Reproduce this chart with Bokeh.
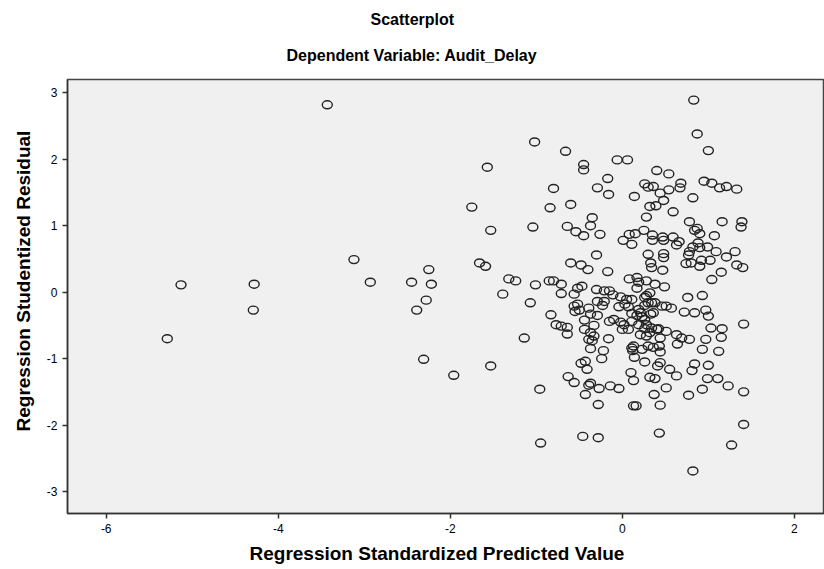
from bokeh.plotting import figure
from bokeh.models import Title, FixedTicker, Range1d
from bokeh.embed import file_html
from bokeh.resources import INLINE

title_main = "Scatterplot"
title_sub = "Dependent Variable: Audit_Delay"
x_label = "Regression Standardized Predicted Value"
y_label = "Regression Studentized Residual"
x_ticks = [-6, -4, -2, 0, 2]
x_tick_labels = ["-6", "-4", "-2", "0", "2"]
y_ticks = [-3, -2, -1, 0, 1, 2, 3]
y_tick_labels = ["-3", "-2", "-1", "0", "1", "2", "3"]

# Left / sparse region
x_left = [-5.29, -5.13, -4.28, -4.29, -3.43, -3.12, -2.93, -2.45, -2.25, -2.22,
          -2.28, -2.39, -2.31, -1.96, -1.53, -1.57, -1.75, -1.53, -1.66, -1.59,
          -1.39, -1.32, -1.24, -1.14, -1.07, -1.01, -1.04, -1.02, -0.96, -0.95]
y_left = [-0.70, 0.11, 0.12, -0.27, 2.82, 0.49, 0.15, 0.15, 0.34, 0.12,
          -0.12, -0.27, -1.01, -1.25, -1.11, 1.88, 1.28, 0.93, 0.44, 0.39,
          -0.03, 0.20, 0.17, -0.69, -0.16, 0.11, 0.98, 2.26, -1.46, -2.27]

# Middle-left region
x_midl = [-0.85, -0.80, -0.71, -0.71, -0.84, -0.80, -0.66, -0.60, -0.64, -0.54,
          -0.45, -0.45, -0.45, -0.35, -0.37, -0.29, -0.26, -0.60, -0.48, -0.40,
          -0.30, -0.56, -0.52, -0.47, -0.52, -0.56, -0.50, -0.55, -0.39, -0.37,
          -0.44, -0.29, -0.83, -0.77, -0.71, -0.64, -0.64, -0.44, -0.33, -0.37,
          -0.39, -0.33, -0.35, -0.37, -0.22, -0.24, -0.48, -0.43, -0.41, -0.63,
          -0.56, -0.43, -0.39, -0.37, -0.27, -0.14, -0.04, -0.28, -0.46, -0.28]
y_midl = [0.17, 0.17, 0.12, -0.02, 1.27, 1.56, 2.12, 1.32, 0.99, 0.91,
          0.85, 1.92, 1.84, 1.12, 1.00, 1.57, 0.87, 0.44, 0.41, 0.34,
          0.56, -0.03, 0.06, 0.09, -0.18, -0.21, -0.27, -0.29, -0.24, -0.33,
          -0.42, -0.35, -0.34, -0.49, -0.51, -0.53, -0.63, -0.56, -0.50, -0.61,
          -0.71, -0.66, -0.73, -0.85, -0.88, -1.00, -1.07, -1.04, -1.16, -1.27,
          -1.36, -1.54, -1.40, -1.37, -1.45, -1.41, -1.45, -1.69, -2.17, -2.19]

# Centre region
x_cent = [-0.17, -0.16, -0.06, 0.06, 0.14, 0.26, 0.30, 0.36, 0.28, 0.32,
          0.39, 0.40, 0.44, 0.01, 0.08, 0.15, 0.11, 0.25, 0.35, 0.35,
          -0.17, 0.30, 0.33, 0.34, 0.08, 0.17, 0.19, 0.28, 0.38, -0.30,
          -0.21, -0.15, -0.11, -0.02, 0.05, 0.11, 0.03, -0.04, 0.07, 0.19,
          0.11, 0.17, 0.23, -0.21, -0.29, -0.23, 0.17, 0.28, 0.32, 0.30,
          0.34, 0.26, 0.36, 0.21, 0.33, -0.15, -0.10, -0.02, 0.02, 0.11,
          0.19, 0.26, 0.07, 0.00, 0.21, 0.28, 0.32, 0.42, 0.51, 0.44,
          0.63, 0.69, 0.78, -0.16, 0.13, 0.23, 0.30, 0.36, 0.43, 0.44,
          0.11, 0.12, 0.14, 0.26, 0.41, 0.44, 0.55, 0.63, 0.10, 0.13,
          0.32, 0.38, 0.51, 0.37, 0.13, 0.16, 0.44, 0.43]
y_cent = [1.71, 1.47, 1.99, 1.99, 1.44, 1.63, 1.58, 1.59, 1.13, 1.29,
          1.30, 1.83, 1.49, 0.78, 0.87, 0.88, 0.72, 0.93, 0.86, 0.78,
          0.31, 0.57, 0.44, 0.37, 0.20, 0.22, 0.15, 0.17, 0.12, 0.04,
          0.02, 0.02, -0.04, -0.07, -0.11, -0.11, -0.18, -0.22, -0.22, -0.26,
          -0.32, -0.35, -0.37, -0.14, -0.14, -0.20, 0.06, -0.05, -0.01, -0.16,
          -0.16, -0.20, -0.31, -0.31, -0.33, -0.44, -0.41, -0.45, -0.49, -0.44,
          -0.49, -0.55, -0.56, -0.56, -0.64, -0.66, -0.61, -0.55, -0.59, -0.69,
          -0.64, -0.69, -0.71, -0.70, -0.81, -0.86, -0.81, -0.83, -0.81, -0.90,
          -0.84, -0.88, -0.98, -1.05, -1.11, -1.06, -1.16, -1.26, -1.21, -1.33,
          -1.28, -1.30, -1.44, -1.54, -1.71, -1.71, -1.70, -2.12]

# Right region
x_right = [0.83, 0.87, 1.00, 0.54, 0.54, 0.68, 0.67, 0.95, 1.04, 1.13,
           1.21, 1.33, 0.82, 0.48, 0.59, 0.78, 1.16, 1.39, 1.38, 0.87,
           0.84, 0.90, 1.07, 0.47, 0.48, 0.59, 0.66, 0.63, 0.88, 0.82,
           0.78, 0.90, 0.99, 1.09, 0.77, 0.74, 0.92, 0.90, 0.80, 1.02,
           1.21, 1.31, 1.33, 1.40, 1.15, 1.04, 0.48, 0.48, 0.47, 0.49,
           0.76, 0.93, 0.26, 0.38, 0.46, 0.51, 0.57, 0.72, 0.84, 0.97,
           1.00, 1.41, 1.03, 1.16, 1.15, 0.26, 0.28, 0.34, 0.40, 0.97,
           0.64, 0.93, 1.12, 0.84, 0.81, 1.00, 0.99, 1.11, 1.23, 1.41,
           0.77, 0.93, 1.41, 1.27, 0.82]
y_right = [2.89, 2.38, 2.13, 1.78, 1.54, 1.64, 1.57, 1.67, 1.64, 1.57,
           1.59, 1.55, 1.42, 1.38, 1.21, 1.06, 1.06, 1.06, 0.98, 0.96,
           0.93, 0.88, 0.85, 0.83, 0.78, 0.83, 0.76, 0.71, 0.74, 0.68,
           0.61, 0.67, 0.68, 0.61, 0.56, 0.43, 0.48, 0.39, 0.44, 0.48,
           0.53, 0.61, 0.41, 0.37, 0.30, 0.19, 0.58, 0.52, 0.33, 0.08,
           -0.08, -0.05, -0.08, -0.16, -0.21, -0.21, -0.24, -0.30, -0.31, -0.27,
           -0.36, -0.48, -0.54, -0.55, -0.68, -0.41, -0.49, -0.54, -0.56, -0.71,
           -0.78, -0.86, -0.89, -1.08, -1.18, -1.10, -1.30, -1.30, -1.41, -1.50,
           -1.55, -1.46, -1.99, -2.30, -2.69]

xs = x_left + x_midl + x_cent + x_right
ys = y_left + y_midl + y_cent + y_right

FONT = "Liberation Sans"
X0, X1, Y0, Y1 = -6.45, 2.35, -3.33, 3.20

p = figure(width=824, height=569, output_backend="svg", toolbar_location=None,
           x_range=Range1d(X0, X1), y_range=Range1d(Y0, Y1),
           min_border_left=67, min_border_right=0, min_border_bottom=56,
           min_border_top=10)

p.background_fill_color = "#F0F0F0"
p.border_fill_color = "white"
p.outline_line_color = "#444444"
p.outline_line_width = 1.5
p.xgrid.visible = False
p.ygrid.visible = False

p.ellipse(x=xs, y=ys, width=10, height=8, width_units="screen", height_units="screen",
          fill_color=None, line_color="#222222", line_width=1.4)

spacer = Title(text=" ", text_font=FONT, text_font_size="1px", standoff=4)
sub = Title(text=title_sub, align="left", offset=219, text_font=FONT,
            text_font_size="16px", text_font_style="bold", text_color="black",
            standoff=17)
main = Title(text=title_main, align="left", offset=303, text_font=FONT,
             text_font_size="16px", text_font_style="bold", text_color="black",
             standoff=17)
p.add_layout(spacer, "above")
p.add_layout(sub, "above")
p.add_layout(main, "above")

for ax, ticks, labels in ((p.xaxis[0], x_ticks, x_tick_labels),
                          (p.yaxis[0], y_ticks, y_tick_labels)):
    ax.ticker = FixedTicker(ticks=ticks)
    ax.major_label_overrides = {t: s for t, s in zip(ticks, labels)}
    ax.major_label_text_font = FONT
    ax.major_label_text_font_size = "12px"
    ax.major_label_text_color = "black"
    ax.axis_line_color = "#333333"
    ax.axis_line_width = 1.5
    ax.major_tick_line_color = "#333333"
    ax.major_tick_line_width = 1.5
    ax.major_tick_in = 0
    ax.major_tick_out = 5
    ax.minor_tick_line_color = None

p.yaxis[0].major_label_orientation = "horizontal"

xtitle = Title(text=x_label, align="left", offset=182, text_font=FONT,
               text_font_size="19px", text_font_style="bold", text_color="black",
               standoff=10)
p.add_layout(xtitle, "below")

ytitle = Title(text=y_label, align="left", offset=82, text_font=FONT,
               text_font_size="19px", text_font_style="bold", text_color="black",
               standoff=20)
p.add_layout(ytitle, "left")

open("out.html", "w").write(file_html(p, INLINE))
